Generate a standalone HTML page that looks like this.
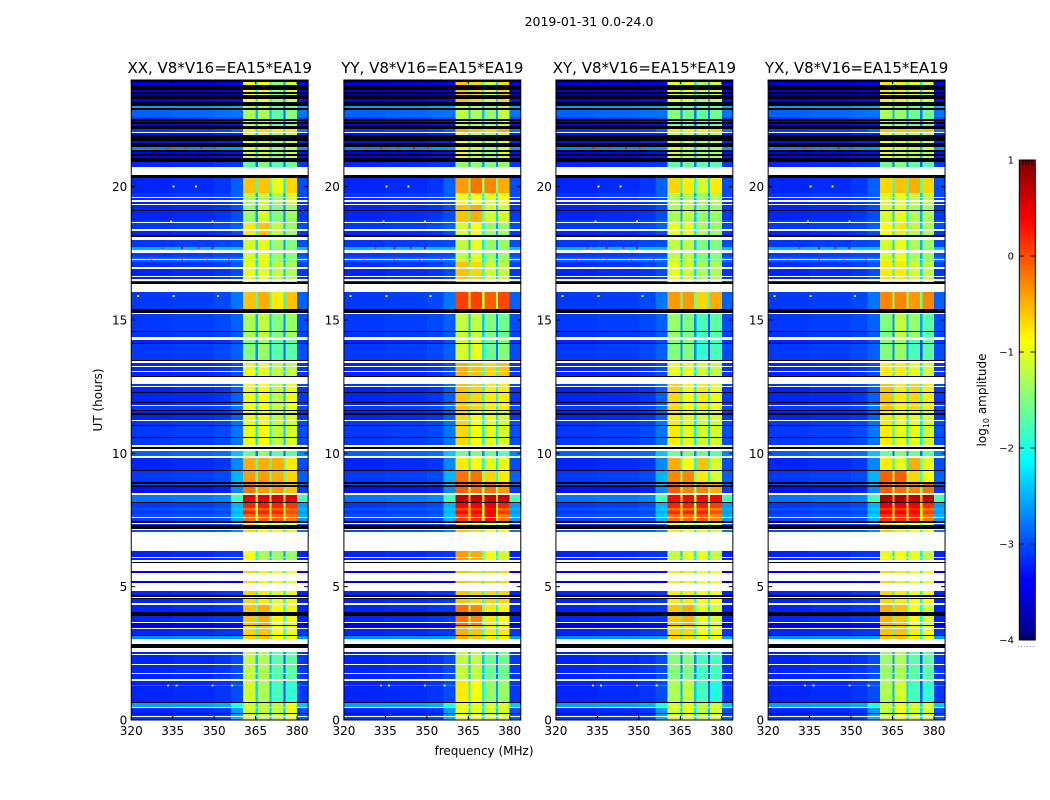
<!DOCTYPE html>
<html lang="en">
<head>
<meta charset="utf-8">
<title>2019-01-31 0.0-24.0 spectrogram panels</title>
<style>
html,body{margin:0;padding:0;background:#fff;}
svg{display:block;font-family:"DejaVu Sans","Liberation Sans",sans-serif;fill:#000;}
</style>
</head>
<body>
<svg id="chart" xmlns="http://www.w3.org/2000/svg" width="1050" height="800" viewBox="0 0 1050 800">
  <defs><linearGradient id="jet-gradient" x1="0" y1="1" x2="0" y2="0"></linearGradient></defs>
  <text x="589" y="26" font-size="12.5" text-anchor="middle">2019-01-31 0.0-24.0</text>
  <text transform="translate(102,400) rotate(-90)" font-size="12" text-anchor="middle">UT (hours)</text>
  <text x="484" y="755" font-size="12" text-anchor="middle">frequency (MHz)</text>
  <text transform="translate(986,400) rotate(-90)" font-size="12" text-anchor="middle">log<tspan font-size="8" dy="3">10</tspan><tspan dy="-3"> amplitude</tspan></text>
</svg>
<script>
/* ---------- Chart data ---------- */
const K = -9;    /* flagged row, drawn black */
const W = null;  /* missing row, left white */

const panelTitles = ["XX, V8*V16=EA15*EA19", "YY, V8*V16=EA15*EA19", "XY, V8*V16=EA15*EA19", "YX, V8*V16=EA15*EA19"];
const panelKeys = ["xx", "yy", "xy", "yx"];
const xTicks = [320, 335, 350, 365, 380];
const yTicks = [0, 5, 10, 15, 20];
const colorbarTicks = [1, 0, -1, -2, -3, -4];
const colorbarLabels = ["1", "0", "\u22121", "\u22122", "\u22123", "\u22124"];

/* Upper edge (UT hours) of each time row; a row ends where the next begins */
const rowTopUT = [
24.00,23.93,23.81,23.63,23.55,23.48,23.44,23.29,23.18,23.03,
22.95,22.88,22.61,22.54,22.46,22.43,22.35,22.28,22.16,22.05,
22.01,21.94,21.71,21.64,21.49,21.38,21.30,21.23,21.15,21.08,
20.93,20.74,20.44,20.33,19.76,19.61,19.58,19.50,19.43,19.35,
19.31,19.13,19.09,18.75,18.68,18.64,18.41,18.34,18.19,18.11,
18.00,17.74,17.63,17.51,17.36,17.29,17.25,17.18,16.99,16.91,
16.65,16.61,16.54,16.46,16.43,16.35,16.05,15.41,15.26,15.23,
14.59,14.55,14.36,14.25,14.14,14.10,13.50,13.46,13.39,13.28,
13.24,13.09,13.05,12.90,12.86,12.60,12.53,12.49,12.30,12.26,
11.93,11.89,11.81,11.78,11.63,11.59,11.51,11.44,11.25,11.21,
11.06,11.03,10.61,10.58,10.31,10.24,10.16,10.09,9.90,9.83,
9.38,9.34,8.93,8.85,8.81,8.74,8.51,8.44,8.18,8.14,
7.95,7.85,7.72,
7.61,7.58,7.46,7.39,7.35,7.31,7.16,7.13,7.05,6.34,
6.11,6.08,6.00,5.93,5.89,5.59,5.51,5.21,5.14,4.84,
4.69,4.61,4.58,4.54,4.39,4.31,4.05,3.90,3.68,3.64,
3.56,3.53,3.45,3.41,3.19,3.15,3.04,2.85,2.70,2.55,
2.48,2.44,2.10,2.06,1.76,1.73,1.54,1.46,1.31,1.28,
0.68,0.64,0.49,0.45,0.26,0.23,0.15,0.11];

/* Off-band log10 amplitude of each row */
const rowBackground = [
K,-3.5,K,-3.5,K,-3.6,K,-3.4,K,-2.6,
K,-2.9,-3.1,K,-3.4,K,-3.4,K,-3.1,W,
-3.3,K,-3.3,K,-2.7,K,-3.4,K,-3.4,K,
-3.2,W,K,-3.2,-3.1,W,-3.2,W,-3.2,W,
-3.2,K,-3.2,-3.1,W,-3.1,W,-3.2,K,W,
-3.1,-2.5,W,-3.1,-2.9,W,-2.9,-3.15,W,-3.2,
W,-3.2,W,-3.2,K,W,-3.1,K,W,-3.1,
K,-3.15,W,-3.2,K,-3.1,K,W,-3.2,W,
-3.2,W,-3.2,K,W,-3.1,W,-3.2,K,-3.2,
K,-3.2,W,-3.1,K,-3.2,K,-3.2,W,-3.1,
K,-3.1,K,-3.1,W,K,W,-2.9,W,-3.2,
K,-3.1,K,-3.0,K,-3.3,W,-2.8,K,-3.1,
-3.0,-3.1,-3.0,
W,-3.1,K,W,-3.1,K,W,-3.0,W,-3.2,
W,-3.2,W,K,W,-3.4,W,-3.5,W,-3.2,
K,W,K,-3.2,W,-3.2,K,-3.2,W,-3.4,
K,-3.4,W,-3.2,K,-2.7,W,K,W,-3.2,
W,-3.2,W,-3.2,W,-3.2,W,-3.2,-2.8,-3.2,
K,-2.6,W,-3.2,K,-3.2,W,-3.1];

/* Upper edge (UT hours) of each observing section */
const sectionTopUT = [24.00,23.03,22.20,22.01,20.93,20.33,20.10,19.76,19.31,18.71,18.00,17.18,16.05,15.71,15.23,14.36,13.46,12.60,11.55,10.13,9.83,9.34,8.93,8.51,8.14,7.95,7.85,7.72,7.43,6.34,5.55,4.31,3.56,2.55,1.50,0.60];

/* Rise above background just below and just above the strong band, per section */
const sectionEdgeRise = [.1,.1,.2,.1,.1,.1,.3,.2,.2,.2,.1,.2,.3,.2,.2,.2,.2,.3,.3,.5,.5,.6,.6,1.0,.6,.6,.6,.6,.3,.1,.1,.1,.1,.2,.2,.6];
const sectionHighRise = [.1,.1,.3,.1,.1,.1,.2,.1,.1,.1,.1,.1,.2,.1,.1,.1,.1,.1,.1,.2,.2,.2,.2,1.0,.5,.5,.5,.5,.2,0,0,0,.1,.1,.1,.2];

/* Level of the four sub-bands per section, one array per polarisation */
const bandXX = [[-.8,-.8,-1.3,-1.0],[-1.2,-1.2,-1.6,-1.4],[-.7,-.6,-.7,-.7],[-1.0,-1.0,-1.3,-1.1],[-1.6,-1.4,-1.6,-1.5],[-1.1,-1.1,-1.2,-1.1],[-.5,-.5,-.9,-.6],[-1.2,-1.1,-1.3,-1.0],[-1.3,-1.0,-1.4,-1.3],[-.7,-.5,-1.1,-1.3],[-1.0,-.9,-1.3,-1.4],[-.9,-.9,-1.1,-1.2],[-.5,-.4,-.7,-.5],[-.8,-.8,-.8,-.8],[-1.2,-1.1,-1.4,-1.3],[-1.4,-1.3,-1.6,-1.6],[-.9,-.9,-1.1,-1.1],[-.9,-.8,-1.1,-.9],[-.9,-.8,-1.1,-1.0],[-1.5,-1.4,-1.6,-1.6],[-.4,-.4,-.4,-.7],[-.3,-.3,-.4,-.6],[-.1,-.3,-.3,-.5],[.6,.6,.6,.6],[.3,.35,.3,.2],[-.1,.0,.0,-.1],[.3,.3,.3,.1],[-.05,.0,0,-.1],[-.6,-.8,-.9,-1.0],[-.8,-1.2,-1.3,-1.3],[-.6,-.7,-.9,-.9],[-.5,-.4,-.8,-.9],[-.6,-.5,-.8,-.9],[-1.1,-1.2,-1.6,-1.6],[-1.0,-1.2,-1.7,-1.8],[-1.0,-1.1,-1.1,-.9]];
const bandYY = [[-.5,-.6,-1.0,-.6],[-1.1,-1.2,-1.3,-1.1],[-.4,-.5,-.6,-.4],[-.9,-1.0,-1.2,-1.0],[-1.3,-1.3,-1.4,-1.3],[-1.0,-1.0,-1.2,-1.2],[-.3,-.1,-.2,-.4],[-.9,-.8,-.9,-.8],[-.5,-.4,-1.0,-1.0],[-1.0,-.8,-1.3,-1.3],[-1.1,-.9,-1.3,-1.3],[-.5,-.6,-1.0,-1.1],[.15,.15,.0,.1],[-.5,-.4,-.5,-.5],[-1.1,-1.1,-1.4,-1.5],[-1.0,-.9,-1.5,-1.4],[-.4,-.5,-.6,-.5],[-.5,-.6,-.7,-.7],[-.6,-.8,-.9,-1.0],[-1.5,-1.4,-1.5,-1.6],[-.7,-.8,-.9,-.9],[-.1,-.1,-.6,-.7],[0,-.1,-.1,-.3],[.75,.75,.7,.7],[.45,.5,.55,.3],[.1,.2,.4,-.1],[.4,.45,.5,.2],[.15,.25,.4,-.1],[-.5,-.6,-.8,-.9],[-.3,-.4,-.8,-1.0],[-.5,-.6,-.6,-.6],[-.1,-.2,-.7,-.8],[-.4,-.5,-.7,-.7],[-1.1,-1.1,-1.5,-1.5],[-.7,-.8,-1.3,-1.3],[-.9,-.9,-1.0,-1.0]];
const bandXY = [[-.9,-.9,-1.2,-1.0],[-1.4,-1.5,-1.6,-1.5],[-.7,-.7,-.7,-.6],[-1.0,-1.1,-1.2,-1.2],[-1.6,-1.5,-1.6,-1.6],[-1.3,-1.2,-1.3,-1.3],[-.6,-.7,-1.0,-.7],[-1.2,-1.2,-1.3,-1.2],[-1.2,-1.1,-1.3,-1.3],[-.9,-.9,-1.2,-1.3],[-1.1,-1.1,-1.4,-1.4],[-.9,-1.0,-1.2,-1.2],[-.3,-.3,-.6,-.4],[-.8,-.8,-.9,-.9],[-1.3,-1.4,-1.7,-1.6],[-1.4,-1.4,-1.8,-1.7],[-.9,-.9,-1.0,-1.1],[-.6,-.8,-.7,-.9],[-.7,-.9,-1.0,-1.0],[-1.5,-1.4,-1.5,-1.6],[-.4,-.8,-.5,-1.0],[-.2,-.2,-.7,-1.0],[.0,-.2,-.2,-.4],[.45,.45,.45,.45],[.3,.3,.35,.15],[-.1,-.1,.0,-.2],[.25,.3,.3,.1],[-.05,-.05,.05,-.2],[-.7,-.8,-.9,-1.0],[-1.1,-.9,-.9,-1.1],[-.7,-.7,-.8,-.8],[-.5,-.4,-.9,-1.0],[-.6,-.6,-.8,-.9],[-1.4,-1.4,-1.7,-1.7],[-1.2,-1.1,-1.7,-1.9],[-1.0,-.9,-1.1,-1.0]];
const bandYX = [[-.7,-.7,-.9,-1.0],[-1.2,-1.3,-1.5,-1.5],[-.5,-.5,-.5,-.5],[-.9,-1.0,-1.1,-1.1],[-1.5,-1.4,-1.6,-1.6],[-1.1,-1.1,-1.2,-1.2],[-.6,-.5,-.4,-.6],[-1.0,-.9,-1.1,-1.1],[-1.0,-.9,-1.2,-1.2],[-.8,-.7,-1.1,-1.2],[-1.0,-.9,-1.2,-1.3],[-.7,-.7,-1.0,-1.1],[-.2,-.2,-.3,-.2],[-.6,-.6,-.7,-.7],[-1.4,-1.1,-1.3,-1.6],[-1.4,-1.3,-1.7,-1.6],[-.7,-.7,-.9,-1.0],[-.5,-.7,-.6,-.7],[-.7,-.9,-.9,-1.0],[-1.5,-1.4,-1.5,-1.6],[-.7,-.9,-.4,-.9],[0,0,-.6,-.8],[.0,-.1,-.2,-.1],[.85,.85,.75,.75],[.55,.55,.5,.25],[.2,.2,.3,-.1],[.5,.5,.45,.15],[.2,.25,.3,-.1],[-.5,-.7,-.8,-.9],[-.9,-.8,-.9,-1.1],[-.6,-.7,-.8,-.8],[-.4,-.5,-.8,-1.0],[-.5,-.5,-.7,-.8],[-1.3,-1.2,-1.6,-1.6],[-1.2,-1.0,-1.7,-1.8],[-1.1,-.9,-1.0,-1.0]];

/* Frequency zones (MHz). Kinds: 0 off-band, 1 lower edge, 2 sub-band, 3 notch, 4 upper edge */
const zoneStartMHz = [320,335,350,356,360.4,365,365.8,370,370.8,375,375.8,380];
const zoneEndMHz = [335,350,356,360.4,365,365.8,370,370.8,375,375.8,380,384];
const zoneKind = [0,0,0,1,2,3,2,3,2,3,2,4];
const zoneBandIndex = [0,0,0,0,0,0,1,1,2,2,3,0];
const zoneRise = [0,.03,.08,0,0,0,0,0,0,0,0,0];
const notchDrop = 1.2;
const bandCalibration = -0.08;

/* Isolated bright channels visible in the off-band area */
const hotUT = [21.45,21.45,21.45,21.45,21.45,21.45,17.7,17.7,17.7,17.7,17.3,17.3,17.3,17.3,20.0,20.0,15.9,15.9,15.9,1.3,1.3,1.3,1.3,18.7,18.7];
const hotMHz = [328,333,339,345,350,335,331,338,349,344,327,338,347,355,335,343,322,335,351,333,336,349,356,334,349];
const hotLevel = [.1,.3,.2,.4,.2,.1,.2,.5,.5,.3,.2,.3,.2,.3,-1,-1,-1,-.8,-1.3,-.6,-1.2,-.6,-.8,-.7,-.7];

/* ---------- Layout and scales ---------- */
const NS = "http://www.w3.org/2000/svg";
const chart = document.getElementById("chart");
const panelLeft = [131.25, 343.9, 555.95, 768.15];
const panelBands = [bandXX, bandYY, bandXY, bandYX];
const panelWidth = 176.9, plotTop = 80, plotBottom = 720;
const freqMin = 320, freqMax = 384, utMin = 0, utMax = 24, levelMin = -4, levelMax = 1;

function xScale(left, mhz) { return left + (mhz - freqMin) / (freqMax - freqMin) * panelWidth; }
function yScale(ut) { return plotBottom - (ut - utMin) / (utMax - utMin) * (plotBottom - plotTop); }
function barY(level) { return 640 - (level - levelMin) / (levelMax - levelMin) * 480; }
function clamp01(v) { return Math.max(0, Math.min(1, v)); }
function jet(level) {
  if (level <= -9) return "#000";
  const t = clamp01((level - levelMin) / (levelMax - levelMin));
  const r = clamp01(1.5 - Math.abs(4 * t - 3));
  const g = clamp01(1.5 - Math.abs(4 * t - 2));
  const b = clamp01(1.5 - Math.abs(4 * t - 1));
  return "rgb(" + Math.round(r * 255) + "," + Math.round(g * 255) + "," + Math.round(b * 255) + ")";
}
function sectionIndex(ut) {
  let s = 0;
  for (let i = 0; i < sectionTopUT.length; i++) { if (sectionTopUT[i] >= ut) s = i; }
  return s;
}
function make(tag, attrs, parent) {
  const el = document.createElementNS(NS, tag);
  for (const k in attrs) el.setAttribute(k, attrs[k]);
  parent.appendChild(el);
  return el;
}

/* ---------- Panels ---------- */
panelTitles.forEach(function (title, p) {
  const left = panelLeft[p];
  const bands = panelBands[p];
  const group = make("g", {}, chart);
  
  

  const cells = make("g", { "shape-rendering": "crispEdges" }, group);
  
  

  rowTopUT.forEach(function (top, r) {
    const bottom = r + 1 < rowTopUT.length ? rowTopUT[r + 1] : utMin;
    const bg = rowBackground[r];
    if (bg === W) return;
    const y0 = yScale(top), y1 = yScale(bottom);
    if (bg === K) {
      const flagged = make("rect", { x: left, y: y0, width: panelWidth, height: y1 - y0, fill: jet(K) }, cells);
      
      
      return;
    }
    const s = sectionIndex((top + bottom) / 2);
    zoneStartMHz.forEach(function (start, z) {
      const kind = zoneKind[z];
      const band = bands[s][zoneBandIndex[z]] + bandCalibration;
      let level = bg + zoneRise[z];
      if (kind === 1) level = bg + sectionEdgeRise[s];
      if (kind === 2) level = band;
      if (kind === 3) level = band - notchDrop;
      if (kind === 4) level = bg + sectionHighRise[s];
      const x0 = xScale(left, start), x1 = xScale(left, zoneEndMHz[z]);
      const cell = make("rect", { x: x0, y: y0, width: x1 - x0, height: y1 - y0, fill: jet(level) }, cells);
      
      
    });
  });

  hotUT.forEach(function (ut, i) {
    const y = yScale(ut);
    const spot = make("rect", { x: xScale(left, hotMHz[i]), y: y - 1, width: 2, height: 2, fill: jet(hotLevel[i]), "shape-rendering": "crispEdges" }, group);
    
    
  });

  xTicks.forEach(function (v) {
    const x = xScale(left, v);
    const tickB = make("line", { x1: x, x2: x, y1: plotBottom, y2: plotBottom - 4, stroke: "#000", "stroke-width": 1 }, group);
    
    
    const tickT = make("line", { x1: x, x2: x, y1: plotTop, y2: plotTop + 4, stroke: "#000", "stroke-width": 1 }, group);
    
    
    const label = make("text", { x: x, y: 735, "font-size": 12, "text-anchor": "middle" }, group);
    
    
    label.textContent = String(v);
  });

  yTicks.forEach(function (v) {
    const y = yScale(v);
    const tickL = make("line", { x1: left, x2: left + 4, y1: y, y2: y, stroke: "#000", "stroke-width": 1 }, group);
    
    
    const tickR = make("line", { x1: left + panelWidth, x2: left + panelWidth - 4, y1: y, y2: y, stroke: "#000", "stroke-width": 1 }, group);
    
    
    const label = make("text", { x: left - 4, y: y + 4.5, "font-size": 12, "text-anchor": "end" }, group);
    
    
    label.textContent = String(v);
  });

  const frame = make("rect", { x: left, y: plotTop, width: panelWidth, height: plotBottom - plotTop, fill: "none", stroke: "#000", "stroke-width": 1 }, group);
  
  

  const heading = make("text", { x: left + panelWidth / 2, y: 73, "font-size": 15, "text-anchor": "middle" }, group);
  
  
  heading.textContent = title;
});

/* ---------- Colour bar ---------- */
const gradient = document.getElementById("jet-gradient");
for (let i = 0; i <= 40; i++) {
  make("stop", { offset: (i / 40), "stop-color": jet(levelMin + (levelMax - levelMin) * i / 40) }, gradient);
}
const barGroup = make("g", {}, chart);



const barFill = make("rect", { x: 1019.3, y: 160, width: 16, height: 480, fill: "url(#jet-gradient)", stroke: "#000", "stroke-width": 1 }, barGroup);



colorbarTicks.forEach(function (v, i) {
  const y = barY(v);
  if (v > levelMin && v < levelMax) {
    const dashL = make("line", { x1: 1019.5, x2: 1024, y1: y, y2: y, stroke: "#000", "stroke-width": 1 }, barGroup);
    
    
    const dashR = make("line", { x1: 1030.5, x2: 1035, y1: y, y2: y, stroke: "#000", "stroke-width": 1 }, barGroup);
    
    
  } else {
    const dir = v === levelMax ? 1 : -1;
    [1023, 1026, 1029, 1032].forEach(function (x) {
      const nub = make("line", { x1: x, x2: x, y1: y, y2: y + dir * 5, stroke: "#000", "stroke-width": 1 }, barGroup);
      
      
    });
  }
  const label = make("text", { x: 1014, y: y + 3.5, "font-size": 10, "text-anchor": "end" }, barGroup);
  
  
  label.textContent = colorbarLabels[i];
});

[1018, 1021, 1024, 1027, 1030, 1033].forEach(function (x) {
  const dot = make("rect", { x: x, y: 646, width: 1, height: 1, fill: "#999" }, barGroup);
  
  
});
</script>
</body>
</html>
